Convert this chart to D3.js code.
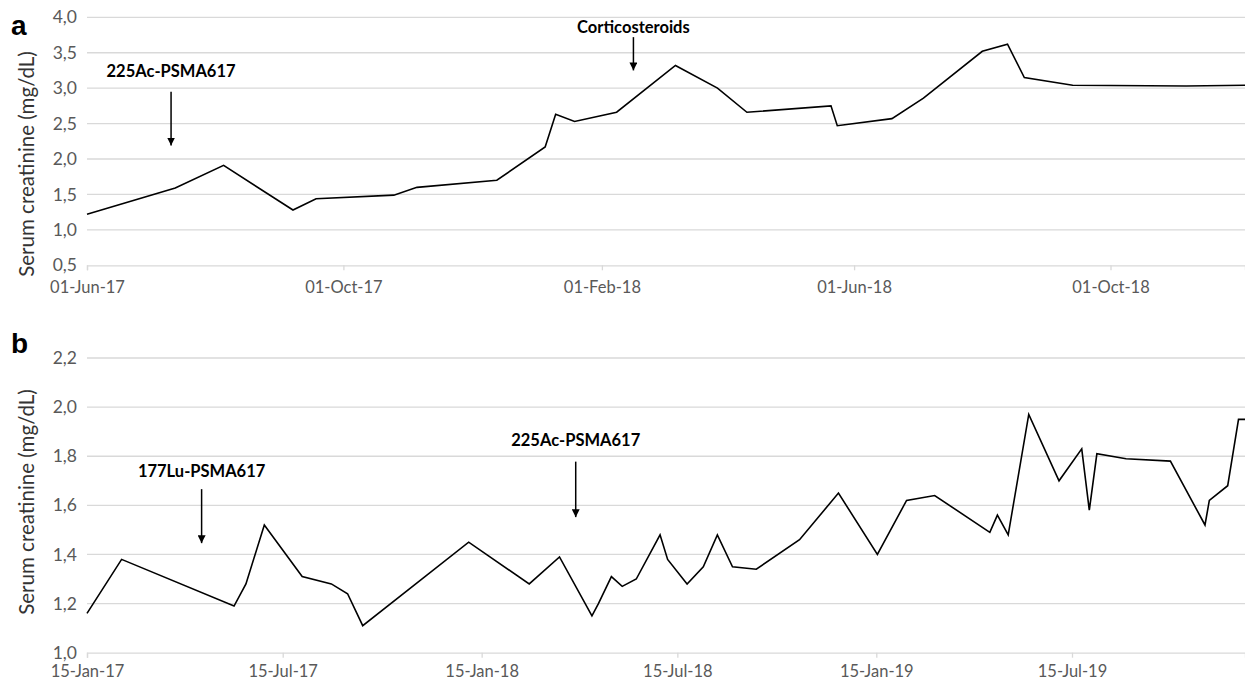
<!DOCTYPE html>
<html><head><meta charset="utf-8">
<script src="https://cdn.jsdelivr.net/npm/d3@7"></script>
<style>body{margin:0;background:#fff}svg{display:block}</style>
</head><body>
<svg id="c" width="1245" height="681"></svg>
<script>
// ---- Panel a data ----
const datesA = ["2017-06-01","2017-07-13","2017-08-05","2017-09-07","2017-09-18","2017-10-25","2017-11-05","2017-12-13","2018-01-05","2018-01-10","2018-01-19","2018-02-08","2018-03-08","2018-03-28","2018-04-11","2018-05-21","2018-05-24","2018-06-19","2018-07-04","2018-08-01","2018-08-13","2018-08-21","2018-09-13","2018-11-06","2018-12-04"];
const valuesA = [1.22,1.59,1.91,1.28,1.44,1.49,1.60,1.70,2.17,2.63,2.53,2.66,3.32,3.00,2.66,2.75,2.47,2.57,2.86,3.52,3.62,3.15,3.04,3.03,3.04];
const ticksA = ["2017-06-01","2017-10-01","2018-02-01","2018-06-01","2018-10-01"];
const yTicksA = [0.5,1.0,1.5,2.0,2.5,3.0,3.5,4.0];
const annotLabelsA = ["225Ac-PSMA617","Corticosteroids"];
const annotDatesA = ["2017-07-11","2018-02-16"];
const annotTextValA = [3.16,3.78];
const annotTopValA = [2.95,3.72];
const annotEndValA = [2.19,3.25];

// ---- Panel b data ----
const datesB = ["2017-01-15","2017-02-16","2017-05-31","2017-06-11","2017-06-28","2017-08-02","2017-08-29","2017-09-13","2017-09-27","2018-01-03","2018-02-28","2018-03-28","2018-04-27","2018-05-03","2018-05-15","2018-05-25","2018-06-07","2018-06-29","2018-07-06","2018-07-24","2018-08-08","2018-08-21","2018-09-04","2018-09-26","2018-11-05","2018-12-11","2019-01-16","2019-02-12","2019-03-10","2019-04-30","2019-05-07","2019-05-17","2019-06-05","2019-07-03","2019-07-24","2019-07-31","2019-08-07","2019-09-03","2019-10-14","2019-11-15","2019-11-19","2019-12-06","2019-12-16","2019-12-22"];
const valuesB = [1.16,1.38,1.19,1.28,1.52,1.31,1.28,1.24,1.11,1.45,1.28,1.39,1.15,1.20,1.31,1.27,1.30,1.48,1.38,1.28,1.35,1.48,1.35,1.34,1.46,1.65,1.40,1.62,1.64,1.49,1.56,1.48,1.97,1.70,1.83,1.58,1.81,1.79,1.78,1.52,1.62,1.68,1.95,1.95];
const ticksB = ["2017-01-15","2017-07-15","2018-01-15","2018-07-15","2019-01-15","2019-07-15"];
const yTicksB = [1.0,1.2,1.4,1.6,1.8,2.0,2.2];
const annotLabelsB = ["177Lu-PSMA617","225Ac-PSMA617"];
const annotDatesB = ["2017-05-01","2018-04-12"];
const annotTextValB = [1.716,1.84];
const annotTopValB = [1.666,1.778];
const annotEndValB = [1.446,1.552];

const parse = d3.utcParse("%Y-%m-%d");
const fmtDate = d3.utcFormat("%d-%b-%y");
const fmtNum = v => v.toFixed(1).replace(".", ",");
const svg = d3.select("#c");

svg.append("defs").append("marker")
  .attr("id","ah").attr("viewBox","0 0 10 10").attr("refX",10).attr("refY",5)
  .attr("markerWidth",8).attr("markerHeight",8).attr("markerUnits","userSpaceOnUse")
  .attr("orient","auto")
  .append("path").attr("d","M0,0 L10,5 L0,10 z").attr("fill","#000");

function panel(cfg){
  const x = d3.scaleUtc().domain(cfg.xDomain.map(parse)).range([87,1245]);
  const y = d3.scaleLinear().domain(cfg.yDomain).range(cfg.yRange);
  const g = svg.append("g");
  g.selectAll(".grid").data(cfg.yTicks.slice(1)).enter().append("line")
    .attr("x1",87).attr("x2",1245).attr("y1",d=>y(d)).attr("y2",d=>y(d))
    .attr("stroke","#d9d9d9").attr("stroke-width",1.3);
  const xa = g.append("g").attr("transform",`translate(0,${y(cfg.yDomain[0])})`)
    .call(d3.axisBottom(x).tickValues(cfg.xTicks.map(parse)).tickFormat(fmtDate).tickSize(5).tickPadding(cfg.pad));
  xa.select(".domain").attr("stroke","#d9d9d9").attr("stroke-width",1.3);
  xa.selectAll(".tick line").attr("stroke","#d9d9d9").attr("stroke-width",1.3);
  xa.selectAll("text").attr("font-family","Lato").attr("font-size",16.5).attr("fill","#595959");
  const ya = g.append("g").attr("transform","translate(87,0)")
    .call(d3.axisLeft(y).tickValues(cfg.yTicks).tickFormat(fmtNum).tickSize(0).tickPadding(10));
  ya.select(".domain").remove();
  ya.selectAll("text").attr("font-family","Lato").attr("font-size",17.5).attr("fill","#595959");
  g.append("text").attr("transform",`translate(34,${cfg.yTitleY}) rotate(-90)`)
    .attr("text-anchor","middle").attr("font-family","Lato").attr("font-size",20.5).attr("fill","#333")
    .text("Serum creatinine (mg/dL)");
  g.append("text").attr("x",11).attr("y",cfg.letterY).attr("font-family","Liberation Sans")
    .attr("font-weight","bold").attr("font-size",28).attr("fill","#000").text(cfg.letter);
  const pts = cfg.dates.map((d,i)=>[parse(d), cfg.values[i]]);
  g.append("path").datum(pts)
    .attr("d", d3.line().x(d=>x(d[0])).y(d=>y(d[1])))
    .attr("fill","none").attr("stroke","#000").attr("stroke-width",1.6);
  cfg.aLabels.forEach((lab,i)=>{
    const ax = x(parse(cfg.aDates[i]));
    g.append("text").attr("x",ax).attr("y",y(cfg.aText[i])).attr("text-anchor","middle")
      .attr("font-family","Lato").attr("font-weight","bold").attr("font-size",16.5).attr("fill","#000")
      .text(lab);
    g.append("line").attr("x1",ax).attr("x2",ax)
      .attr("y1",y(cfg.aTop[i])).attr("y2",y(cfg.aEnd[i]))
      .attr("stroke","#000").attr("stroke-width",1.5).attr("marker-end","url(#ah)");
  });
}

panel({dates:datesA, values:valuesA, xDomain:["2017-06-01","2018-12-04"], xTicks:ticksA,
  yDomain:[0.5,4.0], yRange:[265.3,17.3], yTicks:yTicksA, pad:11,
  aLabels:annotLabelsA, aDates:annotDatesA, aText:annotTextValA, aTop:annotTopValA, aEnd:annotEndValA,
  letter:"a", letterY:35, yTitleY:164});
panel({dates:datesB, values:valuesB, xDomain:["2017-01-15","2019-12-22"], xTicks:ticksB,
  yDomain:[1.0,2.2], yRange:[652.7,358], yTicks:yTicksB, pad:8,
  aLabels:annotLabelsB, aDates:annotDatesB, aText:annotTextValB, aTop:annotTopValB, aEnd:annotEndValB,
  letter:"b", letterY:353, yTitleY:502});
</script>
</body></html>
